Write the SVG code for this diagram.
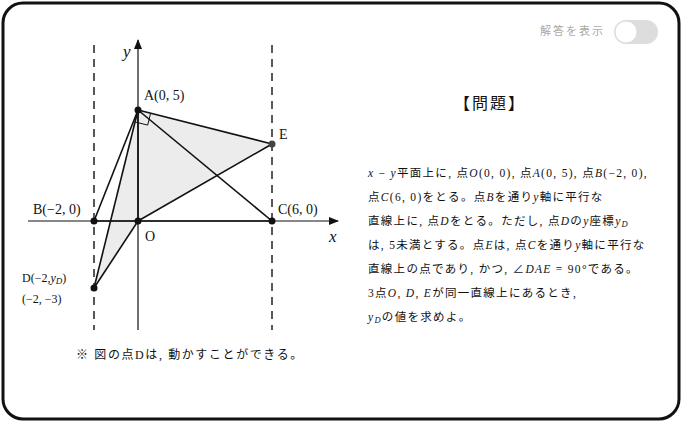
<svg xmlns="http://www.w3.org/2000/svg" width="682" height="422" viewBox="0 0 682 422">
<style>
.t{font-family:"Liberation Serif","Noto Sans CJK JP",serif;fill:#111}
.ln{stroke:#111;stroke-width:1.6;fill:none}
.pt{fill:#111}
</style>
<defs><marker id="ar" markerWidth="10" markerHeight="8" refX="9" refY="4" orient="auto" markerUnits="userSpaceOnUse"><path d="M0,0 L10,4 L0,8 Z" fill="#111"/></marker></defs>
<rect x="3" y="3" width="676" height="416" rx="20" fill="#fff" stroke="#111" stroke-width="3"/>
<g id="toggle">
<text x="540" y="35" class="t" font-size="11" style="fill:#aaa" letter-spacing="2">解答を表示</text>
<rect x="614" y="20" width="44" height="24" rx="12" fill="#ddd"/>
<circle cx="626" cy="32" r="11" fill="#fff" stroke="#ddd"/>
</g>
<g id="shading">
<polygon points="138,110 272,144 138,221" fill="#ececec"/>
<polygon points="138,110 138,221 94,288" fill="#ececec"/>
</g>
<g id="axes">
<line x1="28" y1="221" x2="338" y2="221" stroke="#111" stroke-width="1.2" marker-end="url(#ar)"/>
<line x1="138" y1="330" x2="138" y2="40" stroke="#111" stroke-width="1.2" marker-end="url(#ar)"/>
<line x1="94" y1="45" x2="94" y2="330" stroke="#111" stroke-width="1.4" stroke-dasharray="8,6"/>
<line x1="272" y1="45" x2="272" y2="330" stroke="#111" stroke-width="1.4" stroke-dasharray="8,6"/>
</g>
<g id="connectors">
<line class="ln" x1="94" y1="221" x2="272" y2="221"/>
<line class="ln" x1="138" y1="110" x2="138" y2="221"/>
<line class="ln" x1="138" y1="110" x2="94" y2="221"/>
<line class="ln" x1="138" y1="110" x2="94" y2="288"/>
<line class="ln" x1="138" y1="110" x2="272" y2="221"/>
<line class="ln" x1="138" y1="110" x2="272" y2="144"/>
<line class="ln" x1="138" y1="221" x2="272" y2="144"/>
<line class="ln" x1="138" y1="221" x2="94" y2="288"/>
<polyline points="150.6,113.2 147.7,125.1 135.6,122.1" fill="none" stroke="#111" stroke-width="1"/>
</g>
<g id="A"><circle class="pt" cx="138" cy="110" r="3.5"/><text class="t" x="144" y="100" font-size="14">A(0, 5)</text></g>
<g id="B"><circle class="pt" cx="94" cy="221" r="3.5"/><text class="t" x="33" y="214" font-size="14">B(−2, 0)</text></g>
<g id="C"><circle class="pt" cx="272" cy="221" r="3.5"/><text class="t" x="278" y="214" font-size="14">C(6, 0)</text></g>
<g id="O"><circle class="pt" cx="138" cy="221" r="3.5"/><text class="t" x="145" y="241" font-size="14">O</text></g>
<g id="E"><circle cx="272" cy="144" r="3.5" fill="#444"/><text class="t" x="279" y="139" font-size="14">E</text></g>
<g id="D"><circle class="pt" cx="94" cy="288" r="3.5"/><text class="t" x="22" y="282" font-size="12">D(−2,<tspan font-style="italic">y</tspan><tspan font-style="italic" font-size="9" dy="2">D</tspan><tspan dy="-2">)</tspan></text><text class="t" x="22" y="303" font-size="12">(−2, −3)</text></g>
<g id="labels">
<text class="t" x="329" y="242" font-size="17" font-style="italic">x</text>
<text class="t" x="123" y="57" font-size="17" font-style="italic">y</text>
<text class="t" x="190" y="359" font-size="12" text-anchor="middle" letter-spacing="1.6">※ 図の点Dは, 動かすことができる。</text>
</g>
<g id="problem" font-size="11.5" letter-spacing="1.3">
<text class="t" x="490" y="109" font-size="16" text-anchor="middle" letter-spacing="2">【問題】</text>
<text class="t" x="368" y="177"><tspan font-style="italic">x</tspan> − <tspan font-style="italic">y</tspan>平面上に, 点<tspan font-style="italic">O</tspan>(0, 0), 点<tspan font-style="italic">A</tspan>(0, 5), 点<tspan font-style="italic">B</tspan>(−2, 0),</text>
<text class="t" x="368" y="201">点<tspan font-style="italic">C</tspan>(6, 0)をとる。点<tspan font-style="italic">B</tspan>を通り<tspan font-style="italic">y</tspan>軸に平行な</text>
<text class="t" x="368" y="225">直線上に, 点<tspan font-style="italic">D</tspan>をとる。ただし, 点<tspan font-style="italic">D</tspan>の<tspan font-style="italic">y</tspan>座標<tspan font-style="italic">y</tspan><tspan font-style="italic" font-size="8.5" dy="2">D</tspan></text>
<text class="t" x="368" y="249">は, 5未満とする。点<tspan font-style="italic">E</tspan>は, 点<tspan font-style="italic">C</tspan>を通り<tspan font-style="italic">y</tspan>軸に平行な</text>
<text class="t" x="368" y="273">直線上の点であり, かつ, ∠<tspan font-style="italic">DAE</tspan> = 90°である。</text>
<text class="t" x="368" y="297">3点<tspan font-style="italic">O</tspan>, <tspan font-style="italic">D</tspan>, <tspan font-style="italic">E</tspan>が同一直線上にあるとき,</text>
<text class="t" x="368" y="321"><tspan font-style="italic">y</tspan><tspan font-style="italic" font-size="8.5" dy="2">D</tspan><tspan dy="-2">の値を求めよ。</tspan></text>
</g>
</svg>
